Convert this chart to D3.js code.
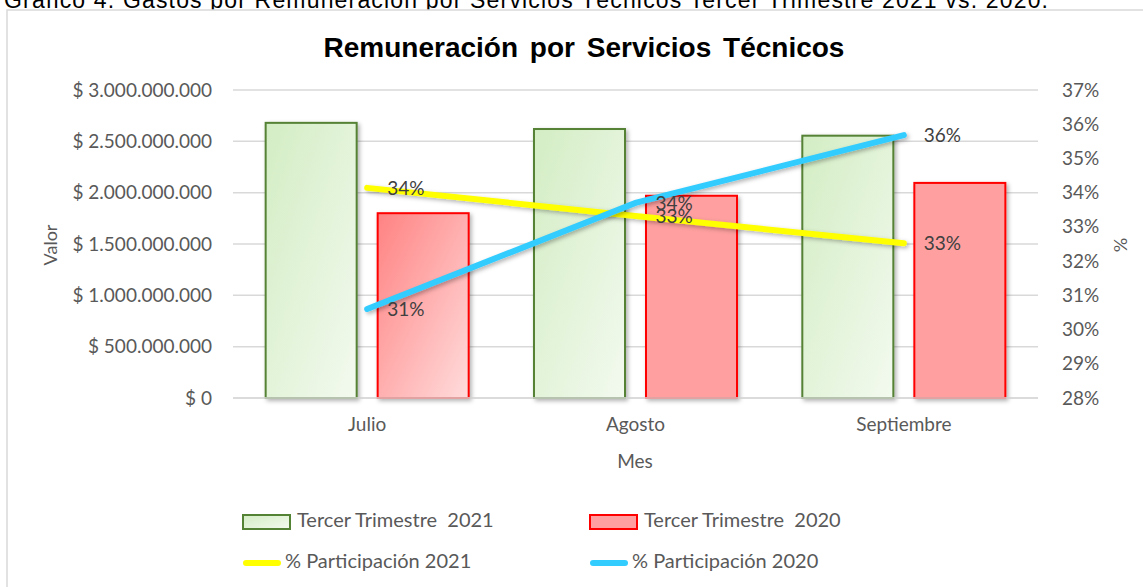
<!DOCTYPE html>
<html>
<head>
<meta charset="utf-8">
<script src="https://cdn.jsdelivr.net/npm/d3@7"></script>
<style>
  body { margin: 0; background: #fff; }
  svg { display: block; }
</style>
</head>
<body>
<div id="chart"></div>
<script>
// datos
const meses = ["Julio", "Agosto", "Septiembre"];
const valores2021 = [2680000000, 2620000000, 2555000000];
const valores2020 = [1800000000, 1970000000, 2095000000];
const participacion2021 = [0.3414, 0.3332, 0.3252];
const participacion2020 = [0.3060, 0.3370, 0.3568];
const ticksValor = [0, 500000000, 1000000000, 1500000000, 2000000000, 2500000000, 3000000000];
const ticksPct = [0.28, 0.29, 0.30, 0.31, 0.32, 0.33, 0.34, 0.35, 0.36, 0.37];

const W = 1143, H = 587;
const plot = { left: 233, right: 1038, top: 90, bottom: 398 };
const gris = "#595959";
const fontEje = "Lato, 'Open Sans', sans-serif";
const tam = 19;

const svg = d3.select("#chart").append("svg")
    .attr("width", W)
    .attr("height", H);

const defs = svg.append("defs");

const gVerde = defs.append("linearGradient").attr("id", "gVerde")
    .attr("x1", "0%").attr("y1", "0%").attr("x2", "100%").attr("y2", "100%");
gVerde.append("stop").attr("offset", "0%").attr("stop-color", "#d3edc4");
gVerde.append("stop").attr("offset", "100%").attr("stop-color", "#f3faef");

const gRojo = defs.append("linearGradient").attr("id", "gRojo")
    .attr("x1", "0%").attr("y1", "0%").attr("x2", "100%").attr("y2", "100%");
gRojo.append("stop").attr("offset", "0%").attr("stop-color", "#ff8282");
gRojo.append("stop").attr("offset", "100%").attr("stop-color", "#ffdcdc");

const sombra = defs.append("filter").attr("id", "sombra")
    .attr("x", "-20%").attr("y", "-20%").attr("width", "140%").attr("height", "140%");
sombra.append("feDropShadow")
    .attr("dx", 2).attr("dy", 2).attr("stdDeviation", 2)
    .attr("flood-color", "#000").attr("flood-opacity", 0.3);

// titulo del documento (cortado arriba)
svg.append("text")
    .attr("x", 4)
    .attr("y", 8)
    .attr("font-family", "'Liberation Sans', Arial, sans-serif")
    .attr("font-size", 23)
    .attr("fill", "#000")
    .attr("textLength", 1044)
    .attr("lengthAdjust", "spacing")
    .text("Gráfico 4. Gastos por Remuneración por Servicios Técnicos Tercer Trimestre 2021 vs. 2020.");

// marco del grafico
svg.append("rect")
    .attr("x", 7).attr("y", 10)
    .attr("width", 1200).attr("height", 700)
    .attr("fill", "#fff")
    .attr("stroke", "#d9d9d9")
    .attr("stroke-width", 1.5);

// titulo
svg.append("text")
    .attr("x", 584)
    .attr("y", 57)
    .attr("text-anchor", "middle")
    .attr("font-family", "'Liberation Sans', Arial, sans-serif")
    .attr("font-weight", "bold")
    .attr("font-size", 28)
    .attr("word-spacing", 4)
    .attr("fill", "#000")
    .text("Remuneración por Servicios Técnicos");

// escalas
const x0 = d3.scaleBand()
    .domain(meses)
    .range([plot.left, plot.right])
    .paddingInner(0.2434)
    .paddingOuter(0.1217);

const x1 = d3.scaleBand()
    .domain(["2021", "2020"])
    .range([0, x0.bandwidth()])
    .paddingInner(0.1875);

const y = d3.scaleLinear()
    .domain([0, 3000000000])
    .range([plot.bottom, plot.top]);

const yPct = d3.scaleLinear()
    .domain([0.28, 0.37])
    .range([plot.bottom, plot.top]);

// lineas de cuadricula
svg.append("g")
    .selectAll("line")
    .data(ticksValor)
    .join("line")
    .attr("x1", plot.left)
    .attr("x2", plot.right)
    .attr("y1", d => y(d))
    .attr("y2", d => y(d))
    .attr("stroke", "#d9d9d9")
    .attr("stroke-width", 1.5);

// eje izquierdo
const fmtValor = d => "$ " + d3.format(",")(d).replace(/,/g, ".");
const ejeIzq = svg.append("g")
    .attr("transform", `translate(${plot.left},0)`)
    .call(d3.axisLeft(y).tickValues(ticksValor).tickFormat(fmtValor).tickSize(0).tickPadding(21));
ejeIzq.select(".domain").remove();
ejeIzq.selectAll("text")
    .attr("font-family", fontEje)
    .attr("font-size", tam)
    .attr("fill", gris);

// eje derecho
const ejeDer = svg.append("g")
    .attr("transform", `translate(${plot.right},0)`)
    .call(d3.axisRight(yPct).tickValues(ticksPct).tickFormat(d3.format(".0%")).tickSize(0).tickPadding(24));
ejeDer.select(".domain").remove();
ejeDer.selectAll("text")
    .attr("font-family", fontEje)
    .attr("font-size", tam)
    .attr("fill", gris);

// eje inferior
const ejeInf = svg.append("g")
    .attr("transform", `translate(0,${plot.bottom})`)
    .call(d3.axisBottom(x0).tickSize(0).tickPadding(20));
ejeInf.select(".domain").remove();
ejeInf.selectAll("text")
    .attr("font-family", fontEje)
    .attr("font-size", tam)
    .attr("fill", gris);

// titulos de ejes
svg.append("text")
    .attr("transform", "translate(57,245) rotate(-90)")
    .attr("text-anchor", "middle")
    .attr("font-family", fontEje)
    .attr("font-size", 18)
    .attr("fill", gris)
    .text("Valor");

svg.append("text")
    .attr("transform", "translate(1114,245) rotate(90)")
    .attr("text-anchor", "middle")
    .attr("font-family", fontEje)
    .attr("font-size", 18)
    .attr("fill", gris)
    .text("%");

svg.append("text")
    .attr("x", 635)
    .attr("y", 468)
    .attr("text-anchor", "middle")
    .attr("font-family", fontEje)
    .attr("font-size", tam)
    .attr("fill", gris)
    .text("Mes");

// barras
const barras = svg.append("g");
barras.selectAll("rect.b2021")
    .data(meses)
    .join("rect")
    .attr("class", "b2021")
    .attr("x", d => x0(d) + x1("2021"))
    .attr("y", (d, i) => y(valores2021[i]))
    .attr("width", x1.bandwidth())
    .attr("height", (d, i) => y(0) - y(valores2021[i]))
    .attr("fill", "url(#gVerde)")
    .attr("stroke", "#548235")
    .attr("stroke-width", 2)
    .attr("filter", "url(#sombra)");

barras.selectAll("rect.b2020")
    .data(meses)
    .join("rect")
    .attr("class", "b2020")
    .attr("x", d => x0(d) + x1("2020"))
    .attr("y", (d, i) => y(valores2020[i]))
    .attr("width", x1.bandwidth())
    .attr("height", (d, i) => y(0) - y(valores2020[i]))
    .attr("fill", (d, i) => i === 0 ? "url(#gRojo)" : "#ff9f9f")
    .attr("stroke", "#ff0000")
    .attr("stroke-width", 2)
    .attr("filter", "url(#sombra)");

// eje base encima de las barras
svg.append("line")
    .attr("x1", plot.left).attr("x2", plot.right)
    .attr("y1", plot.bottom).attr("y2", plot.bottom)
    .attr("stroke", "#d9d9d9")
    .attr("stroke-width", 1.5);

// lineas de participacion
const cx = d => x0(d) + x0.bandwidth() / 2;
const linea = d3.line()
    .x((d, i) => cx(meses[i]))
    .y(d => yPct(d));

svg.append("path")
    .datum(participacion2021)
    .attr("d", linea)
    .attr("fill", "none")
    .attr("stroke", "#ffff00")
    .attr("stroke-width", 6)
    .attr("stroke-linecap", "round")
    .attr("filter", "url(#sombra)");

svg.append("path")
    .datum(participacion2020)
    .attr("d", linea)
    .attr("fill", "none")
    .attr("stroke", "#33ccff")
    .attr("stroke-width", 6)
    .attr("stroke-linecap", "round")
    .attr("filter", "url(#sombra)");

// etiquetas de datos
const fmtPct = d3.format(".0%");
[participacion2021, participacion2020].forEach(serie => {
    svg.append("g")
        .selectAll("text")
        .data(serie)
        .join("text")
        .attr("x", (d, i) => cx(meses[i]) + 20)
        .attr("y", d => yPct(d) + 2)
        .attr("dominant-baseline", "middle")
        .attr("font-family", fontEje)
        .attr("font-size", tam)
        .attr("fill", "#404040")
        .text(d => fmtPct(d));
});

// leyenda
const leyenda = [
    { tipo: "barra", texto: "Tercer Trimestre  2021", x: 243, y: 522, fill: "url(#gVerde)", stroke: "#548235" },
    { tipo: "barra", texto: "Tercer Trimestre  2020", x: 590, y: 522, fill: "#ff9f9f", stroke: "#ff0000" },
    { tipo: "linea", texto: "% Participación 2021", x: 243, y: 563, stroke: "#ffff00" },
    { tipo: "linea", texto: "% Participación 2020", x: 590, y: 563, stroke: "#33ccff" }
];

const gLey = svg.append("g");
leyenda.forEach(l => {
    if (l.tipo === "barra") {
        gLey.append("rect")
            .attr("x", l.x).attr("y", l.y - 7)
            .attr("width", 47).attr("height", 14)
            .attr("fill", l.fill)
            .attr("stroke", l.stroke)
            .attr("stroke-width", 2);
        gLey.append("text")
            .attr("x", l.x + 54).attr("y", l.y)
            .attr("dominant-baseline", "middle")
            .attr("font-family", fontEje)
            .attr("font-size", 20)
            .attr("fill", gris)
            .attr("xml:space", "preserve")
            .text(l.texto);
    } else {
        gLey.append("line")
            .attr("x1", l.x + 3).attr("x2", l.x + 35)
            .attr("y1", l.y).attr("y2", l.y)
            .attr("stroke", l.stroke)
            .attr("stroke-width", 6)
            .attr("stroke-linecap", "round");
        gLey.append("text")
            .attr("x", l.x + 42).attr("y", l.y)
            .attr("dominant-baseline", "middle")
            .attr("font-family", fontEje)
            .attr("font-size", 20)
            .attr("fill", gris)
            .text(l.texto);
    }
});
</script>
</body>
</html>
